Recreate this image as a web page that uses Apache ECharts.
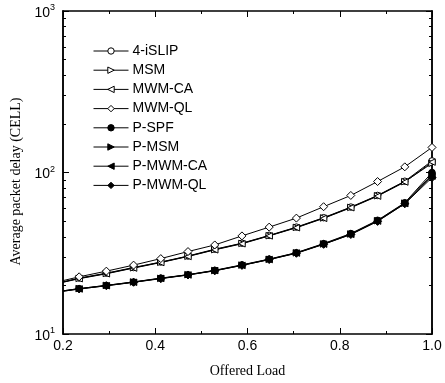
<!DOCTYPE html>
<html><head><meta charset="utf-8">
<script src="https://cdn.jsdelivr.net/npm/echarts@6/dist/echarts.min.js"></script>
<style>html,body{margin:0;padding:0;background:#fff}#c{width:445px;height:383px}</style>
</head><body><div id="c"></div>
<script>
const loads = [0.2, 0.235, 0.294, 0.353, 0.412, 0.471, 0.529, 0.588, 0.647, 0.706, 0.765, 0.824, 0.882, 0.941, 1.0];
const iSLIP4  = [21.0, 22.2, 23.8, 25.8, 27.9, 30.4, 33.5, 36.5, 40.8, 45.9, 52.5, 61.1, 72.1, 88.3, 118];
const MSM     = [21.0, 22.1, 23.7, 25.7, 27.8, 30.3, 33.3, 36.4, 40.6, 45.7, 52.3, 60.8, 71.8, 87.8, 114];
const MWM_CA  = [20.9, 22.0, 23.6, 25.6, 27.7, 30.2, 33.2, 36.2, 40.5, 45.5, 52.0, 60.5, 71.4, 87.3, 116];
const MWM_QL  = [21.4, 22.6, 24.5, 26.7, 29.3, 32.4, 35.6, 40.5, 45.9, 52.2, 61.4, 72.1, 87.9, 108.4, 143];
const P_SPF   = [18.5, 19.1, 20.0, 21.0, 22.2, 23.3, 24.8, 26.8, 29.1, 31.9, 36.3, 41.9, 50.6, 65.0, 100];
const P_MSM   = [18.5, 19.1, 20.0, 21.0, 22.1, 23.3, 24.7, 26.7, 29.0, 31.8, 36.1, 41.6, 50.3, 64.6, 97];
const P_MWM_CA= [18.4, 19.0, 19.9, 20.9, 22.1, 23.2, 24.7, 26.6, 28.9, 31.7, 36.0, 41.4, 50.0, 64.2, 95];
const P_MWM_QL= [18.4, 19.0, 19.9, 20.9, 22.0, 23.2, 24.6, 26.6, 28.9, 31.6, 35.9, 41.3, 49.8, 64.0, 93];
const yMajorTicks = [10, 100, 1000];
const yMinorTicks = [20,30,40,50,60,70,80,90,200,300,400,500,600,700,800,900];
const xTickLabels = [0.2, 0.4, 0.6, 0.8, 1.0];

const seriesDefs = [
  {name:'4-iSLIP', data:iSLIP4, symbol:'circle', fill:false},
  {name:'MSM', data:MSM, symbol:'path://M0,0 L10,5 L0,10 Z', fill:false},
  {name:'MWM-CA', data:MWM_CA, symbol:'path://M10,0 L0,5 L10,10 Z', fill:false},
  {name:'MWM-QL', data:MWM_QL, symbol:'diamond', fill:false},
  {name:'P-SPF', data:P_SPF, symbol:'circle', fill:true},
  {name:'P-MSM', data:P_MSM, symbol:'path://M0,0 L10,5 L0,10 Z', fill:true},
  {name:'P-MWM-CA', data:P_MWM_CA, symbol:'path://M10,0 L0,5 L10,10 Z', fill:true},
  {name:'P-MWM-QL', data:P_MWM_QL, symbol:'diamond', fill:true}
];

const supMap = v => Math.round(Math.log10(v));
const chart = echarts.init(document.getElementById('c'), null, {renderer:'canvas'});
const axisLine = {show:true, lineStyle:{color:'#000', width:1.5}};
const yBase = {type:'log', logBase:10, min:10, max:1000, splitLine:{show:false}, axisLine:axisLine};
chart.setOption({
  animation:false,
  backgroundColor:'#fff',
  grid:{left:63, right:13, top:11, bottom:48, containLabel:false},
  legend:{
    orient:'vertical', left:93, top:44, padding:0, itemWidth:35, itemHeight:8, itemGap:5.2,
    lineStyle:{width:1},
    itemStyle:{borderWidth:1},
    textStyle:{fontFamily:'Liberation Sans, Arial', fontSize:14, color:'#000', lineHeight:14, padding:[0,0,0,-1]},
    data: seriesDefs.map(s=>s.name)
  },
  xAxis:[
    {type:'value', min:0.2, max:1.0, interval:0.2, position:'bottom',
     name:'Offered Load', nameLocation:'middle', nameGap:30,
     nameTextStyle:{fontFamily:'Liberation Serif, Times New Roman', fontSize:14, color:'#000'},
     axisLine:axisLine, splitLine:{show:false},
     axisTick:{show:true, inside:true, length:6, lineStyle:{color:'#000', width:1}},
     minorTick:{show:true, splitNumber:2, length:3, lineStyle:{color:'#000', width:1}},
     axisLabel:{fontFamily:'Liberation Sans, Arial', fontSize:14, color:'#000', margin:5,
       customValues:xTickLabels, formatter:v=>v.toFixed(1)}},
    {type:'value', min:0.2, max:1.0, interval:0.2, position:'top',
     axisLine:axisLine, splitLine:{show:false},
     axisTick:{show:true, inside:true, length:6, lineStyle:{color:'#000', width:1}},
     minorTick:{show:true, splitNumber:2, length:3, lineStyle:{color:'#000', width:1}},
     axisLabel:{show:false}}
  ],
  yAxis:[
    Object.assign({}, yBase, {position:'left',
      name:'Average packet delay (CELL)', nameLocation:'middle', nameGap:35, nameRotate:90,
      nameTextStyle:{fontFamily:'Liberation Serif, Times New Roman', fontSize:14, color:'#000', padding:[0,18,0,0]},
      axisTick:{show:true, inside:true, length:6, customValues:yMajorTicks, lineStyle:{color:'#000', width:1}},
      axisLabel:{show:true, customValues:yMajorTicks, margin:8,
        formatter: v => '{b|10}{s|' + supMap(v) + '}',
        rich:{b:{fontFamily:'Liberation Sans, Arial', fontSize:14, color:'#000', padding:[4,0,0,0]},
              s:{fontFamily:'Liberation Sans, Arial', fontSize:9, color:'#000', padding:[0,0,6,0]}}}}),
    Object.assign({}, yBase, {position:'left', offset:0,
      axisTick:{show:true, inside:true, length:3, customValues:yMinorTicks, lineStyle:{color:'#000', width:1}},
      axisLabel:{show:false}}),
    Object.assign({}, yBase, {position:'right', offset:0,
      axisTick:{show:true, inside:true, length:6, customValues:yMajorTicks, lineStyle:{color:'#000', width:1}},
      axisLabel:{show:false}}),
    Object.assign({}, yBase, {position:'right', offset:0,
      axisTick:{show:true, inside:true, length:3, customValues:yMinorTicks, lineStyle:{color:'#000', width:1}},
      axisLabel:{show:false}})
  ],
  series: seriesDefs.map(s => ({
    name:s.name, type:'line', xAxisIndex:0, yAxisIndex:0,
    symbol:s.symbol, symbolSize: s.symbol==='diamond' ? 8 : 6.5,
    showAllSymbol:true,
    lineStyle:{color:'#000', width:1},
    itemStyle:{color: s.fill ? '#000' : '#fff', borderColor:'#000', borderWidth:1},
    emphasis:{disabled:true},
    data: loads.map((x,i) => i===0 ? {value:[x, s.data[i]], symbol:'none'} : [x, s.data[i]])
  }))
});
</script></body></html>
